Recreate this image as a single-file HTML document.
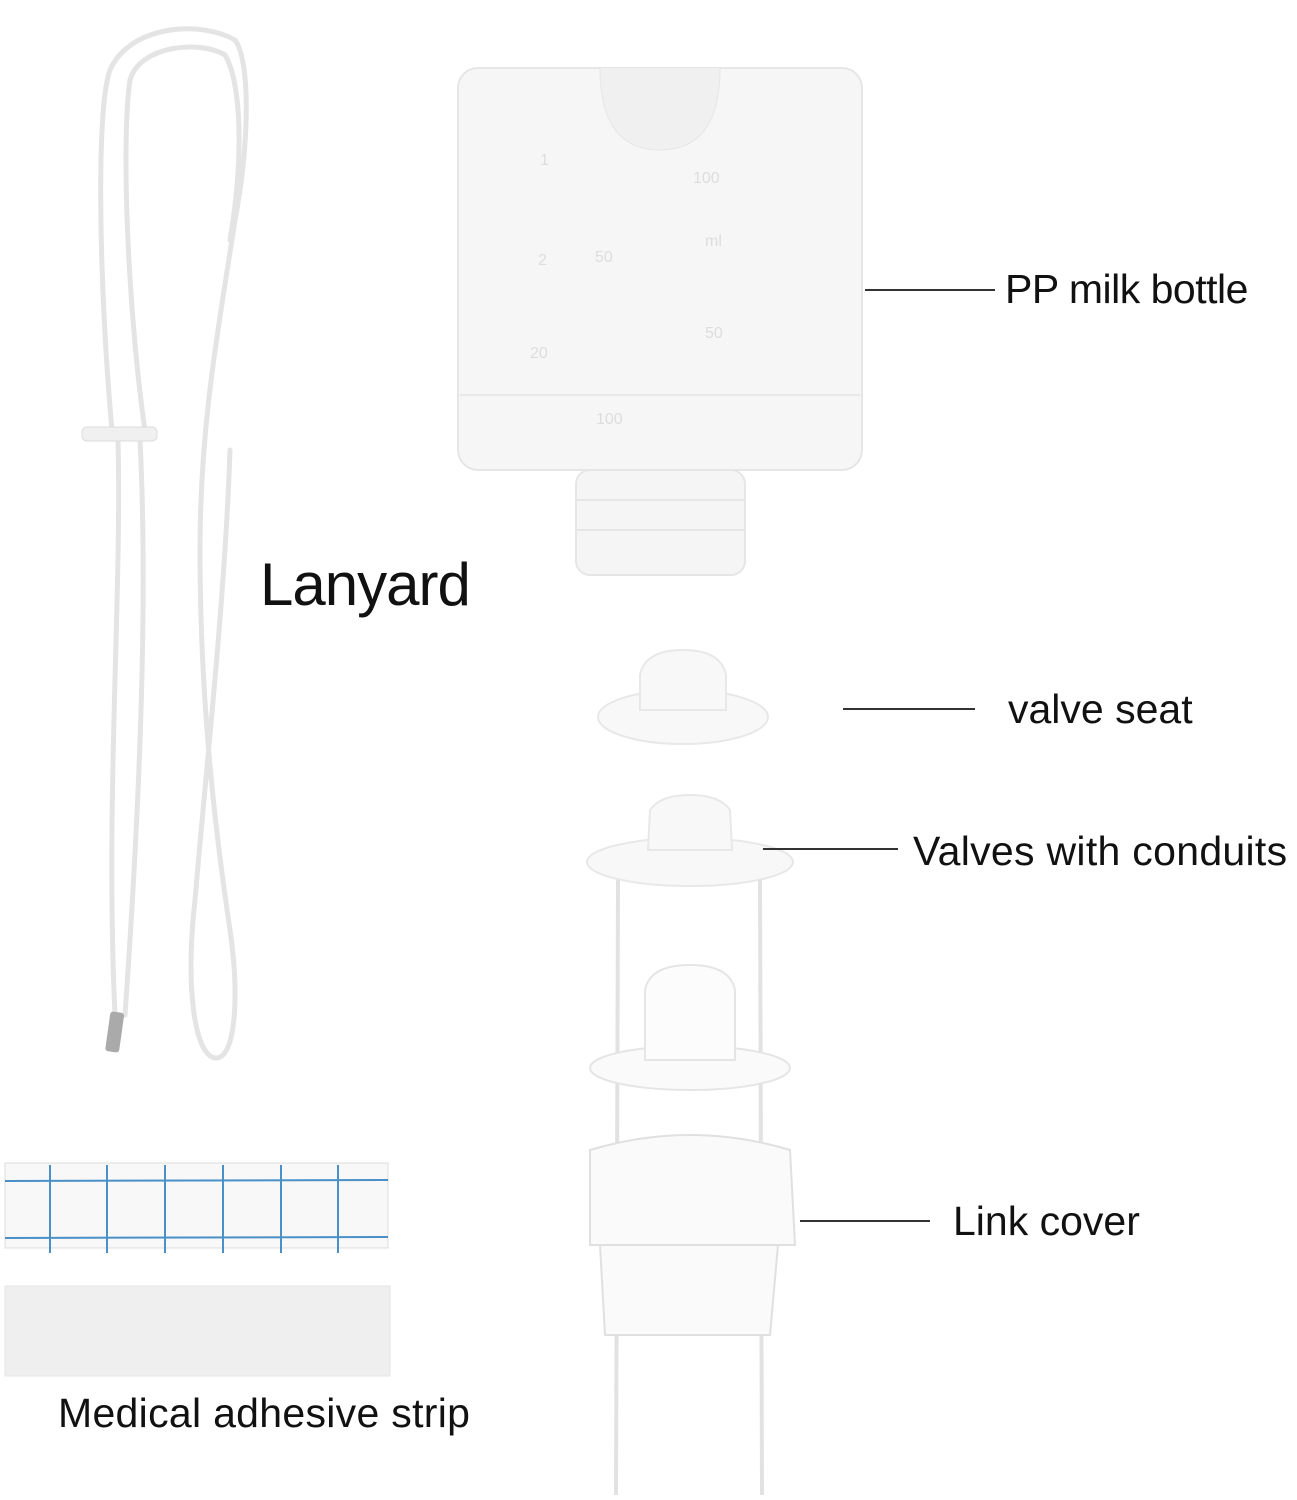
<!DOCTYPE html>
<html><head><style>
body{margin:0;background:#fff;}
.t{position:absolute;font-family:"Liberation Sans",sans-serif;color:#111;white-space:nowrap;}
</style></head><body>
<div style="position:relative;width:1297px;height:1500px;overflow:hidden;">
<svg width="1297" height="1500" style="position:absolute;left:0;top:0">
<!-- lanyard -->
<g fill="none" stroke="#e4e4e4" stroke-width="5" stroke-linecap="round">
<path d="M112 430 C100 300 95 110 110 70 C130 25 200 20 235 40 C250 60 250 140 235 220 C220 320 200 420 200 550 C200 700 215 830 230 930 C240 1000 235 1060 215 1058 C195 1055 185 990 195 900 C205 780 225 600 230 450"/>
<path d="M145 430 C130 330 120 150 130 80 C140 45 200 40 225 55 C240 80 245 150 230 240"/>
<path d="M118 440 C122 600 105 800 115 1015"/>
<path d="M140 440 C148 600 140 800 125 1015"/>
</g>
<rect x="82" y="427" width="75" height="14" rx="5" fill="#f0f0f0" stroke="#ddd"/>
<rect x="108" y="1012" width="14" height="40" rx="3" fill="#aaa" transform="rotate(8 115 1030)"/>
<!-- bottle -->
<rect x="458" y="68" width="404" height="402" rx="20" fill="#f6f6f6" stroke="#e6e6e6" stroke-width="2"/>
<line x1="460" y1="395" x2="860" y2="395" stroke="#e8e8e8" stroke-width="2"/>
<path d="M600 68 Q600 150 660 150 Q720 150 720 68" fill="#f0f0f0" stroke="#e6e6e6"/>
<rect x="576" y="470" width="169" height="105" rx="14" fill="#f5f5f5" stroke="#e6e6e6" stroke-width="2"/>
<line x1="576" y1="500" x2="745" y2="500" stroke="#e6e6e6" stroke-width="2"/>
<line x1="576" y1="530" x2="745" y2="530" stroke="#e6e6e6" stroke-width="2"/>
<g font-family="Liberation Sans" font-size="16" fill="#ddd">
<text x="540" y="165">1</text><text x="693" y="183">100</text><text x="538" y="265">2</text><text x="595" y="262">50</text><text x="705" y="246">ml</text><text x="530" y="358">20</text><text x="705" y="338">50</text><text x="596" y="424">100</text>
</g>
<!-- valve seat -->
<ellipse cx="683" cy="717" rx="85" ry="27" fill="#f8f8f8" stroke="#e8e8e8" stroke-width="2"/>
<path d="M640 710 L640 675 Q645 650 683 650 Q721 650 726 675 L726 710 Z" fill="#f8f8f8" stroke="#e8e8e8" stroke-width="2"/>
<!-- valves with conduits -->
<ellipse cx="690" cy="862" rx="103" ry="24" fill="#f8f8f8" stroke="#e8e8e8" stroke-width="2"/>
<path d="M648 850 L650 810 Q660 795 690 795 Q720 795 730 810 L732 850 Z" fill="#f8f8f8" stroke="#e8e8e8" stroke-width="2"/>
<g stroke="#e2e2e2" stroke-width="4">
<line x1="618" y1="880" x2="616" y2="1495"/><line x1="760" y1="880" x2="762" y2="1495"/>
</g>
<ellipse cx="690" cy="1068" rx="100" ry="22" fill="#fafafa" stroke="#e5e5e5" stroke-width="2"/>
<path d="M645 1060 L645 990 Q650 965 690 965 Q730 965 735 990 L735 1060 Z" fill="#fcfcfc" stroke="#e5e5e5" stroke-width="2"/>
<!-- link cover -->
<path d="M590 1150 Q690 1120 790 1150 L795 1245 L590 1245 Z" fill="#fafafa" stroke="#e0e0e0" stroke-width="2"/>
<path d="M600 1245 L605 1335 L770 1335 L778 1245 Z" fill="#fafafa" stroke="#e0e0e0" stroke-width="2"/>
<!-- adhesive strip -->
<rect x="5" y="1163" width="383" height="85" fill="#f8f8f8" stroke="#ddd"/>
<g stroke="#4a90c8" stroke-width="2">
<line x1="5" y1="1181" x2="388" y2="1180"/><line x1="5" y1="1238" x2="388" y2="1237"/>
<line x1="50" y1="1165" x2="50" y2="1253"/><line x1="107" y1="1165" x2="107" y2="1253"/><line x1="165" y1="1165" x2="165" y2="1253"/><line x1="223" y1="1165" x2="223" y2="1253"/><line x1="281" y1="1165" x2="281" y2="1253"/><line x1="338" y1="1165" x2="338" y2="1253"/>
</g>
<rect x="5" y="1286" width="385" height="90" fill="#efefef" stroke="#e6e6e6"/>
<!-- leader lines -->
<g stroke="#333" stroke-width="2">
<line x1="865" y1="290" x2="995" y2="290"/>
<line x1="843" y1="709" x2="975" y2="709"/>
<line x1="763" y1="849" x2="898" y2="849"/>
<line x1="800" y1="1221" x2="930" y2="1221"/>
</g>
</svg>
<div class="t" style="left:1005px;top:266px;font-size:41px;letter-spacing:-0.5px">PP milk bottle</div>
<div class="t" style="left:260px;top:550px;font-size:60px;letter-spacing:-1px">Lanyard</div>
<div class="t" style="left:1008px;top:686px;font-size:41px">valve seat</div>
<div class="t" style="left:913px;top:828px;font-size:41px;letter-spacing:0.3px">Valves with conduits</div>
<div class="t" style="left:953px;top:1198px;font-size:41px">Link cover</div>
<div class="t" style="left:58px;top:1390px;font-size:41px;letter-spacing:0.3px">Medical adhesive strip</div>
</div>
</body></html>
